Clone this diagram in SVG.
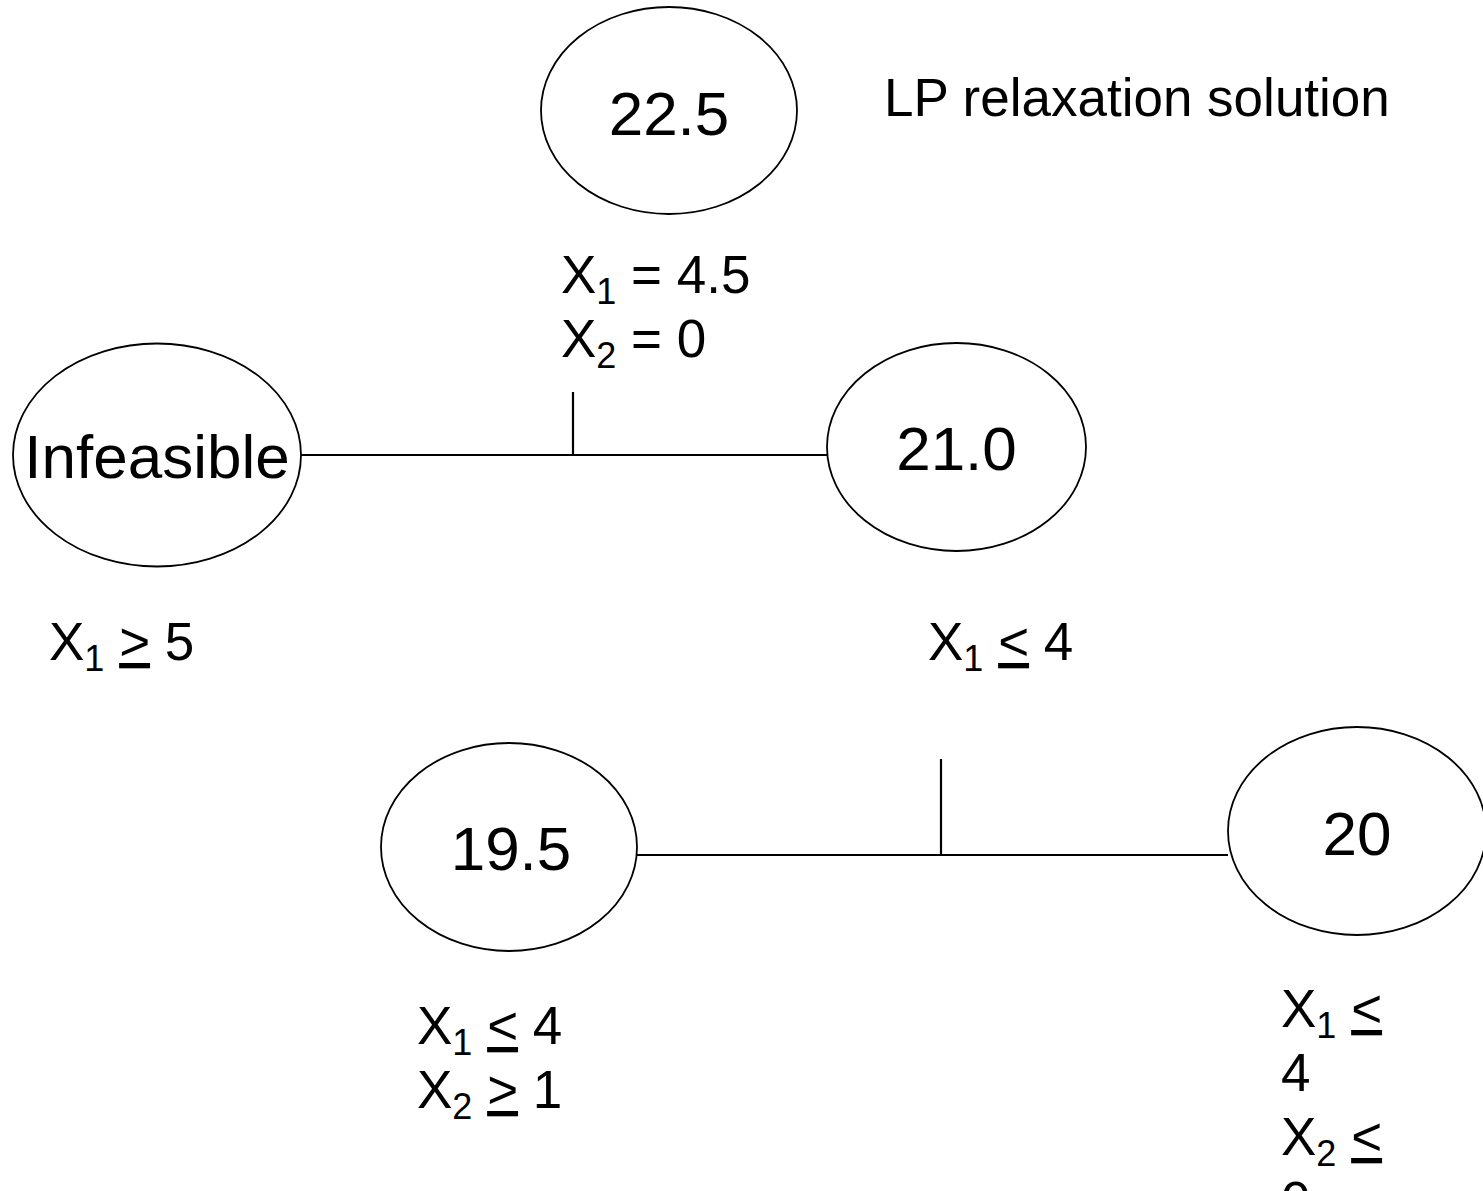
<svg xmlns="http://www.w3.org/2000/svg" width="1483" height="1191" viewBox="0 0 1483 1191">
<style>
  .node ellipse { fill: #ffffff; stroke: #000000; stroke-width: 1.8; }
  .ntext { font-family: "Liberation Sans", Arial, sans-serif; font-size: 62px; fill: #000000; text-anchor: middle; }
  .lbl { font-family: "Liberation Sans", Arial, sans-serif; font-size: 53px; fill: #000000; }
  .sub { font-size: 36px; }
  .ul { text-decoration: underline; }
  .conn line { stroke: #000000; stroke-width: 2.2; }
</style>
<rect width="1483" height="1191" fill="#ffffff"/>
<g id="connectors" class="conn">
  <line x1="301" y1="455" x2="827" y2="455"/>
  <line x1="573" y1="392" x2="573" y2="455"/>
  <line x1="637" y1="855" x2="1228" y2="855"/>
  <line x1="941" y1="759" x2="941" y2="855"/>
</g>
<g id="node-root" class="node">
  <ellipse cx="669" cy="110.5" rx="128" ry="103.5"/>
  <text class="ntext" x="669" y="135">22.5</text>
</g>
<g id="node-infeasible" class="node">
  <ellipse cx="157" cy="455" rx="144" ry="111.5"/>
  <text class="ntext" x="157" y="478">Infeasible</text>
</g>
<g id="node-21" class="node">
  <ellipse cx="956.5" cy="447" rx="129.5" ry="104"/>
  <text class="ntext" x="956.5" y="470">21.0</text>
</g>
<g id="node-19-5" class="node">
  <ellipse cx="509" cy="847" rx="128" ry="104"/>
  <text class="ntext" x="511" y="870">19.5</text>
</g>
<g id="node-20" class="node">
  <ellipse cx="1357" cy="831" rx="129" ry="104"/>
  <text class="ntext" x="1357" y="855">20</text>
</g>
<g id="labels">
  <text class="lbl" x="884" y="116">LP relaxation solution</text>
  <text class="lbl" x="561" y="293">X<tspan class="sub" dy="11">1</tspan><tspan dy="-11"> = 4.5</tspan></text>
  <text class="lbl" x="561" y="357">X<tspan class="sub" dy="11">2</tspan><tspan dy="-11"> = 0</tspan></text>
  <text class="lbl" x="49" y="660">X<tspan class="sub" dy="11">1</tspan><tspan dy="-11"> </tspan><tspan class="ul">&gt;</tspan> 5</text>
  <text class="lbl" x="928" y="660">X<tspan class="sub" dy="11">1</tspan><tspan dy="-11"> </tspan><tspan class="ul">&lt;</tspan> 4</text>
  <text class="lbl" x="417" y="1044">X<tspan class="sub" dy="11">1</tspan><tspan dy="-11"> </tspan><tspan class="ul">&lt;</tspan> 4</text>
  <text class="lbl" x="417" y="1108">X<tspan class="sub" dy="11">2</tspan><tspan dy="-11"> </tspan><tspan class="ul">&gt;</tspan> 1</text>
  <text class="lbl" x="1281" y="1027">X<tspan class="sub" dy="11">1</tspan><tspan dy="-11"> </tspan><tspan class="ul">&lt;</tspan></text>
  <text class="lbl" x="1281" y="1091">4</text>
  <text class="lbl" x="1281" y="1155">X<tspan class="sub" dy="11">2</tspan><tspan dy="-11"> </tspan><tspan class="ul">&lt;</tspan></text>
  <text class="lbl" x="1281" y="1219">0</text>
</g>
</svg>
